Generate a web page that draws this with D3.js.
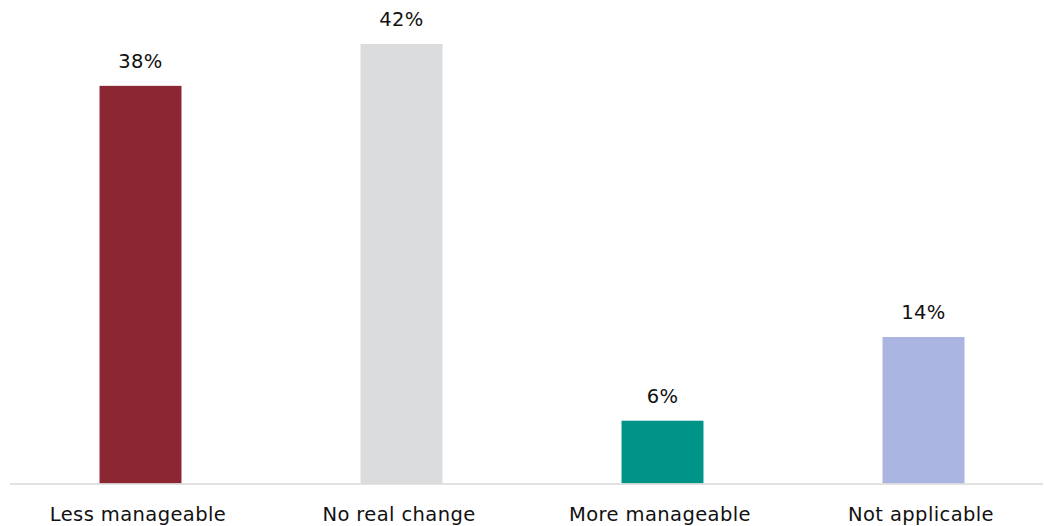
<!DOCTYPE html>
<html>
<head>
<meta charset="utf-8">
<script src="https://cdn.jsdelivr.net/npm/d3@7"></script>
<style>
  html, body { margin: 0; padding: 0; background: #fff; }
  svg { display: block; }
  text { font-family: "DejaVu Sans", sans-serif; fill: #111; letter-spacing: 0.4px; }
</style>
</head>
<body>
<svg id="chart" width="1044" height="526"></svg>
<script>
// Responses by category
const categories = ["Less manageable", "No real change", "More manageable", "Not applicable"];
const values = [38, 42, 6, 14];
const colors = ["#8C2633", "#DBDCDE", "#009488", "#AAB5E2"];

const width = 1044, height = 526;
const svg = d3.select("#chart");

const x = d3.scaleBand()
  .domain(categories)
  .range([10, 1054])
  .paddingInner(0.686)
  .paddingOuter(0.343);

const y = d3.scaleLinear()
  .domain([0, 42])
  .range([483.5, 44]);

// bars
svg.append("g")
  .selectAll("rect")
  .data(values)
  .join("rect")
  .attr("x", (d, i) => x(categories[i]))
  .attr("y", d => y(d))
  .attr("width", x.bandwidth())
  .attr("height", d => y(0) - y(d))
  .attr("fill", (d, i) => colors[i]);

// baseline
svg.append("line")
  .attr("x1", 10).attr("x2", 1043)
  .attr("y1", 484).attr("y2", 484)
  .attr("stroke", "#D9D9D9")
  .attr("stroke-width", 1.5);

// value labels
svg.append("g")
  .selectAll("text")
  .data(values)
  .join("text")
  .attr("x", (d, i) => x(categories[i]) + x.bandwidth() / 2)
  .attr("y", d => y(d) - 18)
  .attr("text-anchor", "middle")
  .attr("font-size", 19.5)
  .text(d => d + "%");

// category axis labels
const axis = d3.axisBottom(x).tickSize(0).tickPadding(0);
const gx = svg.append("g")
  .attr("transform", "translate(0,484)")
  .call(axis);
gx.select(".domain").remove();
gx.selectAll("text")
  .attr("dy", null)
  .attr("dx", -2.5)
  .attr("y", 37)
  .attr("font-size", 19.5)
  .style("font-family", "'DejaVu Sans', sans-serif")
  .attr("fill", "#111");
</script>
</body>
</html>
